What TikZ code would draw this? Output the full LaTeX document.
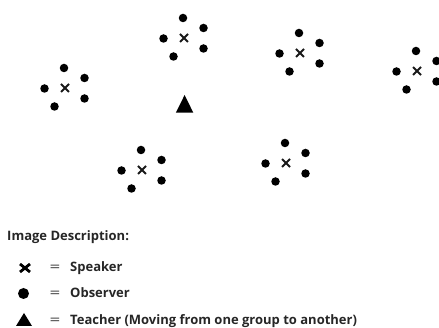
\documentclass[tikz,border=0pt]{standalone}
\usepackage{fontspec}
\usepackage{graphicx}
\setmainfont{Open Sans}
\begin{document}
\begin{tikzpicture}[x=1pt,y=-1pt,
  obs/.style={circle,fill=black,inner sep=0pt,minimum size=8.5pt},
  xmark/.style={line width=#1,black!90},
  lbl/.style={anchor=base west,inner sep=0pt,font=\fontsize{13}{15}\selectfont\bfseries,text=black!85},
  eqs/.style={anchor=base west,inner sep=0pt,font=\fontsize{13}{15}\selectfont,text=black!85}
]
\useasboundingbox (0,0) rectangle (439,328);
% groups: centre of speaker
\foreach \n/\cx/\cy in {g1/65/88, g2/184/38, g3/300/53, g4/417/71, g5/142/170, g6/286/163}{
  \coordinate (\n x) at (\cx,\cy);
  \draw[xmark=1.9pt] ([shift={(-4,-4)}]\n x) -- ([shift={(4,4)}]\n x)
                     ([shift={(-4,4)}]\n x) -- ([shift={(4,-4)}]\n x);
  \node[obs] (\n a) at (\cx-1,\cy-20) {};
  \node[obs] (\n b) at (\cx+19.5,\cy-10) {};
  \node[obs] (\n c) at (\cx+19.5,\cy+10.5) {};
  \node[obs] (\n d) at (\cx-10.5,\cy+18.5) {};
  \node[obs] (\n e) at (\cx-20.5,\cy+0.5) {};
}
% teacher
\coordinate (teacher) at (184.6,104);
\fill ([shift={(0,-9)}]teacher) -- ([shift={(8.7,8.7)}]teacher) -- ([shift={(-8.7,8.7)}]teacher) -- cycle;
% legend
\node[lbl] (title) at (7,241) {Image Description:};
\coordinate (lx) at (25,268);
\draw[line width=2.8pt,black] ([shift={(-5,-4)}]lx) -- ([shift={(5,4)}]lx)
                              ([shift={(-5,4)}]lx) -- ([shift={(5,-4)}]lx);
\node[obs,minimum size=11pt] (lo) at (23.5,293.5) {};
\coordinate (lt) at (24,319.5);
\fill ([shift={(0,-6.5)}]lt) -- ([shift={(8,6.5)}]lt) -- ([shift={(-8,6.5)}]lt) -- cycle;
\node[eqs] (eq1) at (49.5,272) {\scalebox{1.45}[1]{=}};
\node[eqs] (eq2) at (49.5,298) {\scalebox{1.45}[1]{=}};
\node[eqs] (eq3) at (49.5,324.5) {\scalebox{1.45}[1]{=}};
\node[lbl] (t1) at (70,272) {Speaker};
\node[lbl] (t2) at (70,298) {Observer};
\node[lbl] (t3) at (70,324.5) {Teacher (Moving from one group to another)};
\end{tikzpicture}
\end{document}
